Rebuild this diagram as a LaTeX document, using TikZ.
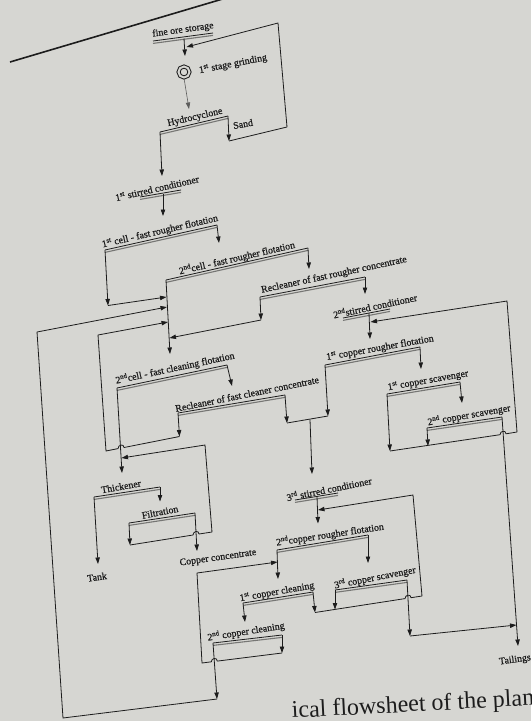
\documentclass[tikz,border=0pt]{standalone}
\usepackage{fontspec}
\setmainfont{Liberation Serif}
\newfontfamily\lblfont{Liberation Serif}[FakeBold=0.7]
\usetikzlibrary{arrows.meta}
\definecolor{paper}{RGB}{214,214,210}
\definecolor{ink}{RGB}{28,28,28}
\definecolor{shade}{RGB}{118,118,116}
% double underline of a unit: dark rule with a grey rule below it
\newcommand\ulpair[2]{%
  \draw[ultop] (#1) -- (#2);
  \draw[ulbot] ([yshift=-2.4pt]#1) -- ([yshift=-2.4pt]#2);}
\begin{document}
\begin{tikzpicture}[x=1pt,y=-1pt,
  flow/.style={draw=ink, line width=0.8pt, line join=round},
  arr/.style={flow, -{Triangle[length=6.5pt,width=4.4pt]}},
  lbl/.style={font=\lblfont\fontsize{9.9}{11}\selectfont, text=ink, inner sep=0pt},
  ultop/.style={draw=ink, line width=0.8pt},
  ulbot/.style={draw=shade, line width=1.1pt},
  captxt/.style={font=\fontsize{24}{28}\selectfont, text=ink, inner sep=0pt}]
\useasboundingbox (0,0) rectangle (531,721);
\fill[paper] (0,0) rectangle (531,721);

\begin{scope}
  \clip (0,0) rectangle (531,721);
  \draw[ink, line width=1.6pt] (10,62) -- (226,-2);
  \node[captxt, rotate=3, anchor=base west] (caption) at (292,718) {ical flowsheet of the plant};
  \node[lbl, rotate=8] (tail) at (515,660) {Tailings};
\end{scope}

% ---------- labels ----------
\node[lbl, rotate=8]    (storage) at (183,30)    {fine ore storage};
\node[draw=ink, circle, line width=1pt, double=paper, double distance=2pt,
      minimum size=11pt, inner sep=0pt] (mill) at (184,72) {};
\node[lbl, rotate=11]   (grind)   at (233,64)    {1\textsuperscript{st} stage grinding};
\node[lbl, rotate=13]   (cyclone) at (195,117.5) {Hydrocyclone};
\node[lbl, rotate=10]   (sand)    at (243,124)   {Sand};
\node[lbl, rotate=13]   (cond1)   at (157,188)   {1\textsuperscript{st} stirred conditioner};
\node[lbl, rotate=13]   (cellA)   at (160,231.5) {1\textsuperscript{st} cell - fast rougher flotation};
\node[lbl, rotate=13]   (cellB)   at (237,258)   {2\textsuperscript{nd}cell - fast rougher flotation};
\node[lbl, rotate=12]   (reclR)   at (334,275)   {Recleaner of fast rougher concentrate};
\node[lbl, rotate=12]   (cond2)   at (375,305.5) {2\textsuperscript{nd}stirred conditioner};
\node[lbl, rotate=10]   (cuR1)    at (380,348)   {1\textsuperscript{st} copper rougher flotation};
\node[lbl, rotate=10]   (scav1)   at (428,380.5) {1\textsuperscript{st} copper scavenger};
\node[lbl, rotate=10]   (scav2)   at (469,415)   {2\textsuperscript{nd} copper scavenger};
\node[lbl, rotate=12]   (cellC)   at (175,368)   {2\textsuperscript{nd}cell - fast cleaning flotation};
\node[lbl, rotate=11.5] (reclC)   at (247,394)   {Recleaner of fast cleaner concentrate};
\node[lbl, rotate=10]   (thick)   at (121,486.5) {Thickener};
\node[lbl, rotate=11]   (filt)    at (160,512)   {Filtration};
\node[lbl, rotate=8]    (tank)    at (97,577)    {Tank};
\node[lbl, rotate=8]    (cuconc)  at (218,558)   {Copper concentrate};
\node[lbl, rotate=11.5] (cond3)   at (329,488.5) {3\textsuperscript{rd} stirred conditioner};
\node[lbl, rotate=8.5]  (cuR2)    at (330,534.5) {2\textsuperscript{nd}copper rougher flotation};
\node[lbl, rotate=10]   (clean1)  at (277,592)   {1\textsuperscript{st} copper cleaning};
\node[lbl, rotate=9]    (clean2)  at (246,631.5) {2\textsuperscript{nd} copper cleaning};
\node[lbl, rotate=11]   (scav3)   at (375,577.5) {3\textsuperscript{rd} copper scavenger};

% ---------- unit rules and stream points ----------
\coordinate (stL) at (153,41);   \coordinate (stR) at (213,33);
\coordinate (a1) at (184,38.5);  \coordinate (a2) at (185,56);
\coordinate (c2) at (189,109);
\coordinate (hL) at (160,132);   \coordinate (hR) at (228,116);
\coordinate (s1) at (229,141);   \coordinate (s2) at (287,127);
\coordinate (s3) at (278,23);    \coordinate (s4) at (186.5,47);
\coordinate (o1) at (162,176);
\coordinate (k1L) at (140,197);  \coordinate (k1R) at (181,190);
\coordinate (k1o) at (163,193.5);\coordinate (k1t) at (163,216);
\coordinate (aL) at (105,250);   \coordinate (aR) at (217,225);
\coordinate (aRt) at (219,243);  \coordinate (aLt) at (108,305.5);
\coordinate (aJ) at (166.5,297);
\coordinate (bL) at (166,280);   \coordinate (bR) at (308,248);
\coordinate (bRt) at (309,269);  \coordinate (bLt) at (170,354);
\coordinate (gL) at (260,297);   \coordinate (gR) at (365,277);
\coordinate (gRt) at (365,294);  \coordinate (gLt) at (261,320);
\coordinate (gJ) at (169.5,338);
\coordinate (k2L) at (343,318);  \coordinate (k2R) at (390,309);
\coordinate (k2o) at (369,313);  \coordinate (k2t) at (370,339);
\coordinate (uL) at (325,365);   \coordinate (uR) at (420,347);
\coordinate (uRt) at (421,369);  \coordinate (uLt) at (328,416);
\coordinate (v1L) at (387,394);  \coordinate (v1R) at (460,382);
\coordinate (v1Rt) at (462,403); \coordinate (v1Lt) at (390,451);
\coordinate (v2L) at (427,428);  \coordinate (v2R) at (502,417);
\coordinate (v2Lt) at (428,446); \coordinate (tl) at (518,646);
\coordinate (w1) at (500,434.7); \coordinate (w2) at (506,433.8);
\coordinate (w3) at (517,432);   \coordinate (w4) at (507,301);
\coordinate (w5) at (370.5,322);
\coordinate (jL) at (178,413);   \coordinate (jR) at (285,395);
\coordinate (jRt) at (287,423);  \coordinate (jLt) at (179.5,436.5);
\coordinate (m1) at (310,419.5); \coordinate (m1t) at (312,474);
\coordinate (x1) at (124,447.5); \coordinate (x2) at (118,448.6);
\coordinate (x3) at (106,451);   \coordinate (x4) at (98,335);
\coordinate (x5) at (168,322);
\coordinate (eL) at (117,388);   \coordinate (eR) at (227,365);
\coordinate (eRt) at (232,386);  \coordinate (eLt) at (122,473);
\coordinate (tL) at (94,497);    \coordinate (tR) at (160,487);
\coordinate (tLt) at (98,564);   \coordinate (tRt) at (160,501.5);
\coordinate (fL) at (129,523);   \coordinate (fR) at (195,513);
\coordinate (fLt) at (130,545);  \coordinate (fRt) at (197,551);
\coordinate (y1) at (193,535);   \coordinate (y2) at (199,534);
\coordinate (y3) at (212,532);   \coordinate (y4) at (205,445);
\coordinate (y5) at (121.5,458);
\coordinate (k3L) at (295,500);  \coordinate (k3R) at (338,493);
\coordinate (k3o) at (317,496.5);\coordinate (k3t) at (318,523.5);
\coordinate (nL) at (277,550);   \coordinate (nR) at (368,535);
\coordinate (nRt) at (368,563);  \coordinate (nLt) at (278,579);
\coordinate (pL) at (243,603);   \coordinate (pR) at (313,592);
\coordinate (pLt) at (245,622);  \coordinate (pRt) at (315,612.5);
\coordinate (zL) at (335,590);   \coordinate (zR) at (407,580);
\coordinate (zLt) at (335,609.5);\coordinate (zRt) at (410,636);
\coordinate (tj) at (516.5,625);
\coordinate (i1) at (405,598.6); \coordinate (i2) at (411,597.7);
\coordinate (i3) at (422,596);   \coordinate (i4) at (413,495);
\coordinate (i5) at (318,510);
\coordinate (dL) at (213,643);   \coordinate (dR) at (282,635);
\coordinate (dRt) at (282,653);  \coordinate (dLt) at (217,699);
\coordinate (g1) at (217.3,661.1); \coordinate (g2) at (211.3,661.8);
\coordinate (g3) at (202,663);   \coordinate (g4) at (197,573);
\coordinate (g5) at (277.5,562);
\coordinate (q1) at (63,718);    \coordinate (q2) at (37,332);
\coordinate (q3) at (167,307);

\ulpair{stL}{stR}
\ulpair{hL}{hR}
\ulpair{k1L}{k1R}
\ulpair{aL}{aR}
\ulpair{bL}{bR}
\ulpair{gL}{gR}
\ulpair{k2L}{k2R}
\ulpair{uL}{uR}
\ulpair{v1L}{v1R}
\ulpair{v2L}{v2R}
\ulpair{jL}{jR}
\ulpair{eL}{eR}
\ulpair{tL}{tR}
\ulpair{fL}{fR}
\ulpair{k3L}{k3R}
\ulpair{nL}{nR}
\ulpair{pL}{pR}
\ulpair{zL}{zR}
\ulpair{dL}{dR}

% ---------- grinding circuit ----------
\draw[arr] (a1) -- (a2);
\draw[arr, draw=ink!65!paper, line width=0.6pt] (mill.south) -- (c2);
\draw[arr] (hR) -- (s1);
\draw[arr] (s1) -- (s2) -- (s3) -- (s4);
\draw[arr] (hL) -- (o1);
\draw[arr] (k1o) -- (k1t);

% ---------- fast rougher / cleaner circuit ----------
\draw[arr] (aR) -- (aRt);
\draw[arr] (aL) -- (aLt);
\draw[arr] (aLt) -- (aJ);
\draw[arr] (bR) -- (bRt);
\draw[arr] (bL) -- (bLt);
\draw[arr] (gR) -- (gRt);
\draw[arr] (gL) -- (gLt);
\draw[arr] (gLt) -- (gJ);
\draw[arr] (eR) -- (eRt);
\draw[arr] (eL) -- (eLt);
\draw[arr] (jL) -- (jLt);
\draw[arr] (jLt) -- (x1) .. controls +(0,-4) and +(0,-4) .. (x2) -- (x3) -- (x4) -- (x5);

% ---------- thickening and filtration ----------
\draw[arr] (tL) -- (tLt);
\draw[arr] (tR) -- (tRt);
\draw[arr] (fL) -- (fLt);
\draw[arr] (fR) -- (fRt);
\draw[arr] (fLt) -- (y1) .. controls +(0,-4) and +(0,-4) .. (y2) -- (y3) -- (y4) -- (y5);

% ---------- copper rougher and scavengers ----------
\draw[arr] (k2o) -- (k2t);
\draw[arr] (uR) -- (uRt);
\draw[arr] (uL) -- (uLt);
\draw[arr] (jR) -- (jRt);
\draw[flow] (uLt) -- (jRt);
\draw[arr] (m1) -- (m1t);
\draw[arr] (v1R) -- (v1Rt);
\draw[arr] (v1L) -- (v1Lt);
\draw[arr] (v2L) -- (v2Lt);
\draw[arr] (v2R) -- (tl);
\draw[arr] (v1Lt) -- (w1) .. controls +(0,-4) and +(0,-4) .. (w2) -- (w3) -- (w4) -- (w5);

% ---------- copper cleaning ----------
\draw[arr] (k3o) -- (k3t);
\draw[arr] (nR) -- (nRt);
\draw[arr] (nL) -- (nLt);
\draw[arr] (pL) -- (pLt);
\draw[arr] (pR) -- (pRt);
\draw[arr] (zL) -- (zLt);
\draw[arr] (zR) -- (zRt);
\draw[arr] (zRt) -- (tj);
\draw[arr] (pRt) -- (i1) .. controls +(0,-4) and +(0,-4) .. (i2) -- (i3) -- (i4) -- (i5);
\draw[arr] (dR) -- (dRt);
\draw[arr] (dRt) -- (g1) .. controls +(0,-4) and +(0,-4) .. (g2) -- (g3) -- (g4) -- (g5);
\draw[arr] (dL) -- (dLt);
\draw[arr] (dLt) -- (q1) -- (q2) -- (q3);
\end{tikzpicture}
\end{document}
